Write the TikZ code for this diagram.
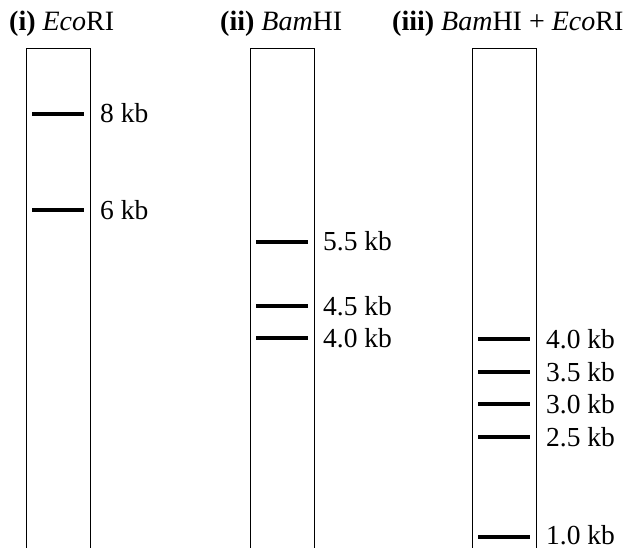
\documentclass[tikz,border=0pt]{standalone}
\usepackage{fontspec}
\setmainfont{Liberation Serif}
\begin{document}
\begin{tikzpicture}[x=1pt,y=-1pt,
  lane/.style={draw=black,line width=1pt},
  band/.style={draw=black,line width=4pt},
  lbl/.style={anchor=base west,inner sep=0pt,font=\fontsize{27.5}{30}\selectfont},
  ttl/.style={anchor=base west,inner sep=0pt,font=\fontsize{28}{32}\selectfont}]
\useasboundingbox (0,0) rectangle (629,548);
% titles
\node[ttl] (t1) at (9,31) {\textbf{(i)} \textit{Eco}RI};
\node[ttl] (t2) at (220,31) {\textbf{(ii)} \textit{Bam}HI};
\node[ttl] (t3) at (392,31) {\textbf{(iii)} \textit{Bam}HI + \textit{Eco}RI};
% lanes
\draw[lane] (26,560) -- (26,49) -- (90,49) -- (90,560);
\draw[lane] (250,560) -- (250,49) -- (314,49) -- (314,560);
\draw[lane] (472,560) -- (472,49) -- (536,49) -- (536,560);
% lane 1 bands
\foreach \y/\t/\n in {114/8 kb/a1, 210/6 kb/a2}{
  \coordinate (\n l) at (32,\y); \coordinate (\n r) at (84,\y);
  \draw[band] (\n l) -- (\n r);
  \node[lbl] (\n t) at (100,\y+9) {\t};
}
% lane 2 bands
\foreach \y/\t/\n in {242/5.5 kb/b1, 306/4.5 kb/b2, 338/4.0 kb/b3}{
  \coordinate (\n l) at (256,\y); \coordinate (\n r) at (308,\y);
  \draw[band] (\n l) -- (\n r);
  \node[lbl] (\n t) at (323,\y+9) {\t};
}
% lane 3 bands
\foreach \y/\t/\n in {339/4.0 kb/c1, 372/3.5 kb/c2, 404/3.0 kb/c3, 437/2.5 kb/c4}{
  \coordinate (\n l) at (478,\y); \coordinate (\n r) at (530,\y);
  \draw[band] (\n l) -- (\n r);
  \node[lbl] (\n t) at (546,\y+9) {\t};
}
\coordinate (c5l) at (478,537); \coordinate (c5r) at (530,537);
\draw[band] (c5l) -- (c5r);
\node[lbl,text depth=0pt] (c5t) at (546,544) {1.0 kb};
\end{tikzpicture}
\end{document}
